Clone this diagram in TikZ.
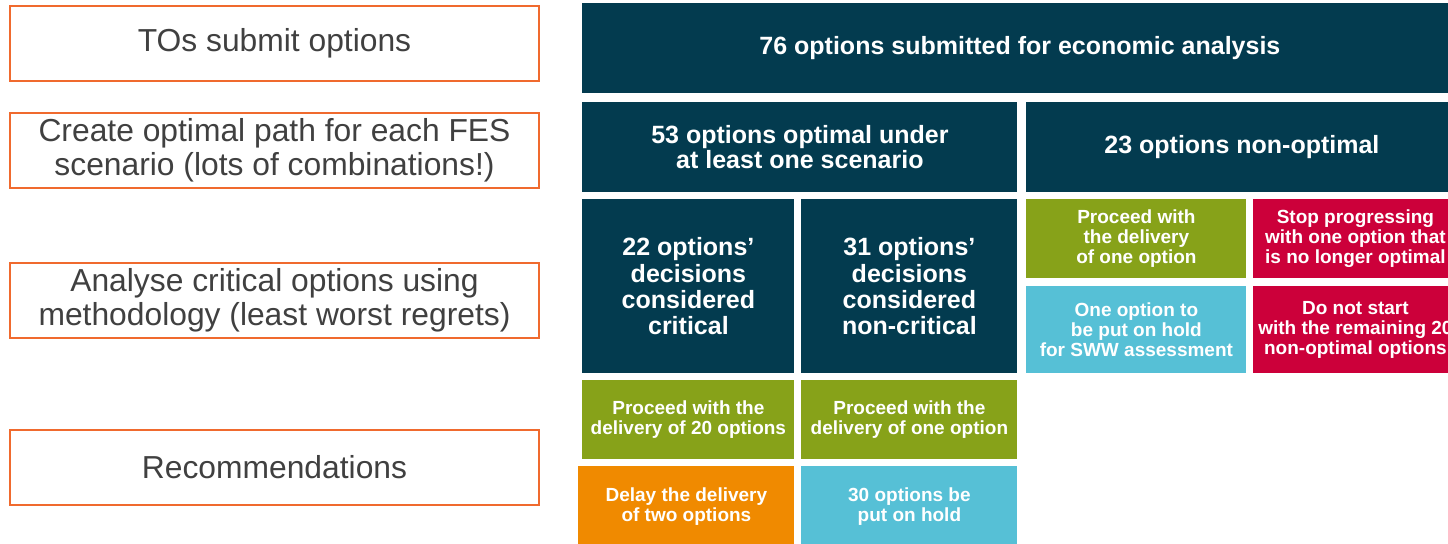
\documentclass[tikz,border=0pt]{standalone}
\usepackage{fontspec}
\setmainfont{Liberation Sans}
\usepackage{tikz}
\usetikzlibrary{positioning}
\definecolor{darkt}{RGB}{3,59,79}
\definecolor{oliveg}{RGB}{135,162,25}
\definecolor{crim}{RGB}{204,0,58}
\definecolor{skyb}{RGB}{86,192,214}
\definecolor{ambr}{RGB}{240,138,0}
\definecolor{orln}{RGB}{240,106,46}
\definecolor{txtg}{RGB}{64,64,64}

\begin{document}
\begin{tikzpicture}[x=0.5pt, y=-0.5pt,
            st/.style={draw=orln, line width=1pt, anchor=north west, inner sep=0pt,
              minimum width=264.5pt, minimum height=37.5pt, align=center, text=txtg,
              font=\fontsize{15.9}{17}\selectfont},
            bx/.style={anchor=north west, inner sep=0pt, align=center, text=white},
            hd/.style={bx, fill=darkt, minimum height=45pt,
              font=\bfseries\fontsize{12.5}{12.5}\selectfont},
            cr/.style={bx, fill=darkt, minimum height=87pt,
              font=\bfseries\fontsize{12.5}{13.2}\selectfont},
            sm/.style={bx, font=\bfseries\fontsize{9.5}{10}\selectfont}]
          \useasboundingbox (0,0) rectangle (1448,543);
          \clip (0,0) rectangle (1448,543);
          \node[st] (s1) at (9,5) {TOs submit options};
          \node[st] (s2) at (9,112) {Create optimal path for each FES\\scenario (lots of combinations!)};
          \node[st] (s3) at (9,262) {Analyse critical options using\\methodology (least worst regrets)};
          \node[st] (s4) at (9,429) {Recommendations};
          \node[hd, minimum width=437.5pt] (all) at (582,3) {76 options submitted for economic analysis};
          \node[hd, minimum width=217.5pt] (opt) at (582,102) {53 options optimal under\\at least one scenario};
          \node[hd, minimum width=215.5pt] (nopt) at (1026,102) {23 options non-optimal};
          \node[cr, minimum width=106pt] (crit) at (582,199) {22 options'\\decisions\\considered\\critical};
          \node[cr, minimum width=108pt] (ncrit) at (801,199) {31 options'\\decisions\\considered\\non-critical};
          \node[sm, fill=oliveg, minimum width=110pt, minimum height=39.5pt] (go1) at (1026,199) {Proceed with\\the delivery\\of one option};
          \node[sm, fill=crim, minimum width=102pt, minimum height=39.5pt] (stop) at (1253,199) {Stop progressing\\with one option that\\is no longer optimal};
          \node[sm, fill=skyb, minimum width=110pt, minimum height=43.5pt] (hold) at (1026,286) {One option to\\be put on hold\\for SWW assessment};
          \node[sm, fill=crim, minimum width=102pt, minimum height=43.5pt] (nost) at (1253,286) {Do not start\\with the remaining 20\\non-optimal options};
          \node[sm, fill=oliveg, minimum width=106pt, minimum height=39.5pt] (go20) at (582,380) {Proceed with the\\delivery of 20 options};
          \node[sm, fill=oliveg, minimum width=108pt, minimum height=39.5pt] (goone) at (801,380) {Proceed with the\\delivery of one option};
          \node[sm, fill=ambr, minimum width=108pt, minimum height=40pt] (dly) at (578,466) {Delay the delivery\\of two options};
          \node[sm, fill=skyb, minimum width=108pt, minimum height=40pt] (put) at (801,466) {30 options be\\put on hold};
        \end{tikzpicture}
\end{document}
